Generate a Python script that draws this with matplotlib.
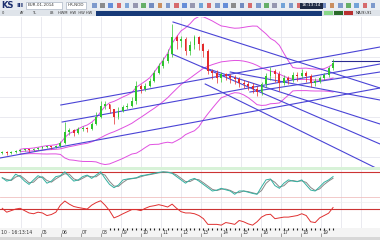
import numpy as np
import pandas as pd
import matplotlib
matplotlib.use("Agg")
import matplotlib.pyplot as plt
from matplotlib.patches import Rectangle

# candles (open = previous close)
closes = [15, 14, 15, 16, 17, 17.5, 17, 18, 19, 20,
          20.5, 20, 21, 24, 35, 36.7, 34, 38, 39, 38,
          43, 50, 61, 63, 58, 50, 56.5, 60, 61, 66,
          81, 78, 81, 86, 94, 101, 106, 113, 130, 126,
          128, 116, 122, 130, 123, 116, 96, 94, 89, 93,
          91, 89, 88, 84, 83, 81, 78, 75, 83, 91,
          96, 93, 84, 89, 87, 92, 91, 94, 91, 84,
          86, 89, 92, 99, 104]
highs = [16, 16, 16, 17, 18, 18.5, 18.5, 19, 20, 21,
         21.5, 21.5, 22, 26, 45, 39, 38, 40, 41, 40,
         45, 55, 66, 66, 63, 58, 60, 62, 64, 70,
         86, 83, 84, 89, 97, 104, 110, 118, 143, 132,
         131, 130, 126, 132, 131, 124, 118, 98, 97, 95,
         94, 93, 92, 90, 87, 86, 84, 81, 85, 94,
         100, 98, 96, 92, 91, 95, 95, 98, 96, 93,
         89, 91, 94, 101, 108]
lows = [13, 12.5, 13.5, 14, 15, 16, 15.5, 16.5, 17, 18.5,
        19, 18.5, 19.5, 20.5, 23, 32, 31, 33, 36, 35,
        37, 42, 49, 58, 54, 43, 48, 55, 58, 60,
        63, 74, 76, 80, 85, 93, 99, 104, 110, 118,
        120, 112, 112, 118, 117, 110, 93, 88, 84, 85,
        87, 84, 83, 80, 79, 77, 74, 71, 72, 80,
        87, 85, 76, 82, 83, 85, 86, 89, 85, 80,
        81, 84, 87, 90, 97]
first_open = 14

# stochastic panel
stoch = [74, 63, 67, 86, 78, 63, 52, 67, 81, 74,
         56, 63, 78, 81, 94, 78, 63, 67, 78, 83,
         72, 83, 94, 72, 52, 41, 50, 67, 70, 72,
         74, 81, 83, 86, 89, 92, 94, 92, 89, 78,
         67, 56, 67, 72, 63, 52, 41, 30, 33, 39,
         34, 30, 19, 30, 30, 26, 22, 19, 44, 67,
         70, 48, 39, 56, 67, 63, 61, 67, 50, 33,
         30, 44, 59, 67, 78]
# rsi-like panel
rsi = [72, 57, 63, 69, 72, 63, 54, 51, 57, 54,
       44, 48, 57, 84, 100, 88, 79, 75, 72, 69,
       84, 94, 101, 84, 63, 35, 42, 51, 59, 67,
       67, 63, 72, 79, 82, 86, 82, 77, 88, 72,
       59, 54, 54, 51, 44, 32, 10, 10, 10, 7,
       17, 14, 10, 25, 20, 12, 7, 20, 38, 47,
       49, 32, 35, 38, 38, 41, 44, 51, 44, 20,
       17, 35, 44, 53, 75]

# drawn trend lines (x0, y0, x1, y1) in candle/price units
up_lines = [(13.1, 62, 84.5, 120), (13.4, 45, 84.5, 103), (-0.5, 9, 84.5, 79),
            (55.4, 75, 84.5, 95)]
down_lines = [(38.2, 145, 84.5, 79), (38, 113, 84.5, 23), (45.4, 83, 84.5, -3),
              (44.7, 100, 84.5, 43), (51, 95, 84.5, 67)]
last_level = (73.8, 106, 84.5, 106)

date_labels = ["05", "06", "07", "08", "09", "10", "11", "12",
               "13", "14", "15", "16", "17", "18", "19"]

W, H = 380, 240
fig = plt.figure(figsize=(3.8, 2.4), dpi=100)
fig.patch.set_facecolor("white")

def px_axes(x0, y0, w, h):
    return fig.add_axes([x0 / W, 1 - (y0 + h) / H, w / W, h / H])

xlim = (-0.5, 84.5)
grid_x = np.arange(4.1, 85, 4.474)
grid_c = "#e6e6ee"
up_c, down_c = "#2ec42e", "#e42a2a"
line_c = "#4a44d6"
band_c = "#e050e0"

n = len(closes)
idx = np.arange(n)
opens = [first_open] + closes[:-1]

# ---- main price chart
ax = px_axes(0, 17, 380, 150)
ax.set_xlim(*xlim)
ax.set_ylim(0, 150)
for g in grid_x:
    ax.axvline(g, color=grid_c, lw=0.6, zorder=0)
for g in range(10, 150, 20):
    ax.axhline(g, color=grid_c, lw=0.6, zorder=0)

s = pd.Series(closes)
mid = s.rolling(20, min_periods=5).mean()
sd = s.rolling(20, min_periods=5).std()
ax.plot(idx, mid + 2 * sd, color=band_c, lw=0.7, zorder=2)
ax.plot(idx, mid, color=band_c, lw=0.7, zorder=2)
ax.plot(idx, mid - 2 * sd, color=band_c, lw=0.7, zorder=2)

for x0, y0, x1, y1 in up_lines + down_lines:
    ax.plot([x0, x1], [y0, y1], color=line_c, lw=0.8, zorder=3)
ax.plot(last_level[::2], last_level[1::2], color="#2a2a90", lw=0.8, zorder=3)

cols = [up_c if c >= o else down_c for o, c in zip(opens, closes)]
ax.vlines(idx, lows, highs, colors=cols, lw=0.5, zorder=4)
bottoms = np.minimum(opens, closes)
heights = np.maximum(np.abs(np.array(closes) - np.array(opens)), 0.6)
ax.bar(idx, heights, bottom=bottoms, width=0.42, color=cols, lw=0, zorder=5)
ax.axis("off")

# separator
sep = px_axes(0, 167, 380, 3)
sep.set_facecolor("#d8f2d8")
sep.set_xticks([]); sep.set_yticks([])
for sp in sep.spines.values():
    sp.set_visible(False)

# ---- stochastic panel
a1 = px_axes(0, 170, 380, 30)
a1.set_xlim(*xlim)
a1.set_ylim(0, 100)
for g in grid_x:
    a1.axvline(g, color=grid_c, lw=0.6, zorder=0)
a1.axhline(93, color="#cc3333", lw=0.8)
a1.axhline(10, color="#f0c0c0", lw=0.6)
sig = pd.Series(stoch).rolling(2, min_periods=1).mean()
a1.plot(idx, sig, color="#888888", lw=0.7)
a1.plot(idx, stoch, color="#33b0a0", lw=0.7)
a1.axis("off")

# ---- rsi panel
a2 = px_axes(0, 200, 380, 28)
a2.set_xlim(*xlim)
a2.set_ylim(-4, 104)
for g in grid_x:
    a2.axvline(g, color=grid_c, lw=0.6, zorder=0)
a2.axhline(98, color="#eeeeee", lw=0.5)
a2.axhline(70, color="#cc3333", lw=0.8)
a2.plot(idx, rsi, color="#e03030", lw=0.7)
a2.axis("off")

# ---- date bar
ab = px_axes(0, 228, 380, 9)
ab.set_xlim(*xlim)
ab.set_ylim(0, 1)
ab.set_facecolor("#f4f4f4")
for sp in ab.spines.values():
    sp.set_visible(False)
ab.set_yticks([])
ab.set_xticks(grid_x[1:1 + len(date_labels)])
ab.set_xticklabels([])
ab.tick_params(axis="x", direction="in", length=3, width=0.5, color="#777777", pad=0)
for g, lab in zip(grid_x[1:], date_labels):
    ab.text(g + 0.35, 0.45, lab, fontsize=3.3, color="#333333", va="center")
ab.set_xticks(np.arange(24, 75, 1), minor=True)
ab.tick_params(axis="x", which="minor", direction="in", length=1.5, width=0.8, color="#222222", top=True, bottom=False)
ab.text(-0.3, 0.45, "10 \u00b7 16:13:14", fontsize=3.3, color="#333333", va="center")

foot = px_axes(0, 237, 380, 3)
foot.set_facecolor("#d8d8d8")
foot.set_xticks([]); foot.set_yticks([])
for sp in foot.spines.values():
    sp.set_visible(False)

# ---- toolbars
tb = px_axes(0, 0, 380, 10)
tb.set_xlim(0, 380); tb.set_ylim(10, 0)
tb.set_facecolor("#e9edf2")
tb.set_xticks([]); tb.set_yticks([])
for sp in tb.spines.values():
    sp.set_visible(False)
tb.text(1, 5.5, "KS", fontsize=6, fontweight="bold", color="#1c2f6e", va="center")
tb.text(16, 5.5, "III", fontsize=4.5, fontweight="bold", color="#1c2f6e", va="center")
tb.add_patch(Rectangle((26, 2), 36, 6.5, fc="white", ec="#9aa6b8", lw=0.4))
tb.text(27.5, 5.3, "EUR-01-2014", fontsize=3, color="#333333", va="center")
tb.add_patch(Rectangle((66, 2), 20, 6.5, fc="white", ec="#9aa6b8", lw=0.4))
tb.text(67.5, 5.3, "HR,NOD", fontsize=3, color="#333333", va="center")
icon_cols = ["#5a7fc0", "#6a6a6a", "#3a6fd0", "#d04040", "#5a8fd0", "#7a7a9a",
             "#3a9a3a", "#4a6ab0", "#c07030", "#5a7fc0", "#d04040", "#3a6fd0",
             "#7a7a9a", "#4a8ad0", "#d04040", "#5a7fc0", "#3a6fd0", "#6a6a6a",
             "#4a6ab0", "#d04040", "#5a7fc0", "#3a9a3a", "#7a7a9a", "#4a8ad0",
             "#5a7fc0", "#d04040", "#3a6fd0", "#6a6a6a", "#4a6ab0", "#c07030",
             "#5a7fc0", "#3a9a3a", "#4a8ad0", "#d04040", "#5a7fc0"]
for k, c in enumerate(icon_cols):
    tb.add_patch(Rectangle((92 + k * 8.2, 2.5), 4.5, 5, fc=c, ec="none", alpha=0.75))
tb.add_patch(Rectangle((300, 2.5), 23, 6, fc="#1e2a44", ec="none"))
tb.text(311.5, 5.5, "16:13:14", fontsize=3.2, color="white", ha="center", va="center")

tb2 = px_axes(0, 10, 380, 6)
tb2.set_xlim(0, 380); tb2.set_ylim(6, 0)
tb2.set_facecolor("#dfe4ea")
tb2.set_xticks([]); tb2.set_yticks([])
for sp in tb2.spines.values():
    sp.set_visible(False)
for xx, t in [(2, "0"), (20, "AY"), (32, "TL"), (50, "LB"), (58, "HWM  HW  HW HW")]:
    tb2.text(xx, 3.2, t, fontsize=2.6, color="#333333", va="center")
tb2.add_patch(Rectangle((96, 0.5), 226, 5, fc="#173a78", ec="none"))
tb2.add_patch(Rectangle((324, 1), 9, 4, fc="#88d888", ec="none"))
tb2.add_patch(Rectangle((334, 1), 9, 4, fc="#2a6a2a", ec="none"))
tb2.add_patch(Rectangle((344, 1), 9, 4, fc="#b83030", ec="none"))
tb2.text(356, 3.2, "MA(9),91", fontsize=2.6, color="#222222", va="center")

fig.savefig("out.png", dpi=100)
